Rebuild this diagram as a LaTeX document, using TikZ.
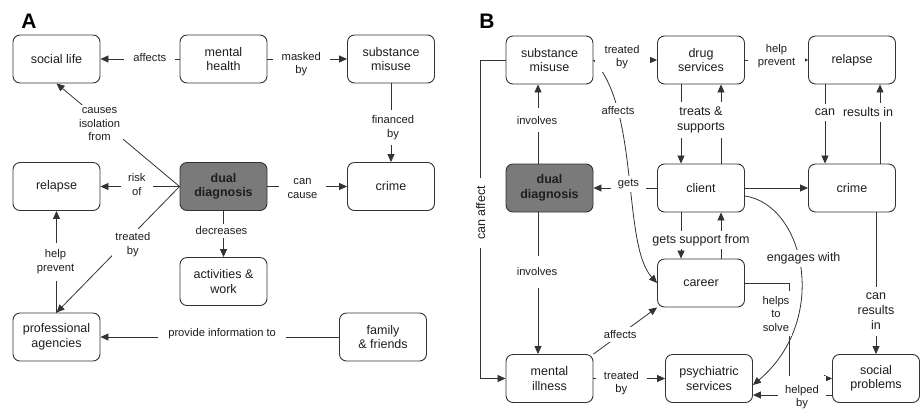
\documentclass[tikz,border=0pt]{standalone}
\usepackage{fontspec}
\setmainfont{Liberation Sans}
\usetikzlibrary{arrows.meta}
\definecolor{lncol}{HTML}{333333}
\definecolor{ddfill}{HTML}{7A7A7A}
\definecolor{txtcol}{HTML}{1E1E1E}
\tikzset{
  box/.style={draw=lncol, line width=0.9pt, rounded corners=7pt, minimum width=87pt, minimum height=48pt,
    align=center, font=\fontsize{12.5}{14.5}\selectfont, text=txtcol, fill=white, inner sep=1pt},
  ddbox/.style={box, fill=ddfill, font=\fontsize{12.5}{14.5}\selectfont\bfseries},
  arr/.style={draw=lncol, line width=0.8pt, -{Triangle[length=8pt,width=7pt]}},
  tinyarr/.style={draw=lncol, line width=0.8pt, -{Triangle[length=3.5pt,width=3.5pt]}},
  plainln/.style={draw=lncol, line width=0.8pt},
  lbl/.style={fill=white, align=center, font=\fontsize{11.2}{13.5}\selectfont, inner sep=3pt, text=txtcol},
  lblL/.style={lbl, font=\fontsize{12.5}{15}\selectfont},
  panel/.style={font=\fontsize{21}{21}\selectfont\bfseries, text=black, inner sep=0pt}
}
\begin{document}
\begin{tikzpicture}[x=1pt,y=-1pt]
\useasboundingbox (0,0) rectangle (920,408);

% ---------------- Panel A ----------------
\node[panel] (labA) at (29,21) {A};
\node[box] (socA) at (56.5,59) {social life};
\node[box] (mhA) at (223.5,59) {mental\\health};
\node[box] (smA) at (391,59) {substance\\misuse};
\node[box] (relA) at (56.5,186.5) {relapse};
\node[ddbox] (ddA) at (223.5,186.5) {dual\\diagnosis};
\node[box] (crA) at (391,186.5) {crime};
\node[box] (awA) at (223.5,281.5) {activities \&\\work};
\node[box] (paA) at (56.5,337) {professional\\agencies};
\node[box] (ffA) at (383,337) {family\\\& friends};

\draw[arr] (mhA.west) -- node[lbl,pos=0.375,yshift=2pt,inner xsep=9pt]{affects} (socA.east);
\draw[arr] (mhA.east) -- node[lbl,pos=0.425,yshift=-5pt,inner xsep=9pt]{masked\\by} (smA.west);
\draw[arr] (smA.south) -- node[lbl,pos=0.56,xshift=2pt,inner ysep=6pt]{financed\\by} (crA.north);
\draw[arr] (ddA.east) -- node[lbl,pos=0.44,yshift=-2pt,inner xsep=9pt]{can\\cause} (crA.west);
\draw[arr] (ddA.west) -- node[lbl,pos=0.54,yshift=2pt,inner xsep=7pt]{risk\\of} (relA.east);
\draw[arr] (ddA.west) -- node[lbl,pos=0.65,yshift=-5pt]{causes\\isolation\\from} (socA.south);
\draw[arr] (ddA.west) -- node[lbl,pos=0.42,xshift=5pt,yshift=-5pt]{treated\\by} (paA.north);
\draw[arr] (ddA.south) -- node[lbl,pos=0.43,xshift=-2pt]{decreases} (awA.north);
\draw[arr] (paA.north) -- node[lbl,pos=0.5,xshift=-1pt,inner ysep=7pt]{help\\prevent} (relA.south);
\draw[arr] (ffA.west) -- node[lbl,pos=0.49,yshift=3pt,inner xsep=10pt]{provide information to} (paA.east);

% ---------------- Panel B ----------------
\node[panel] (labB) at (487,21) {B};
\node[box] (smB) at (549.5,60) {substance\\misuse};
\node[box] (dsB) at (701,60) {drug\\services};
\node[box] (relB) at (852,60) {relapse};
\node[ddbox] (ddB) at (549.5,188) {dual\\diagnosis};
\node[box] (clB) at (701,188) {client};
\node[box] (crB) at (852,188) {crime};
\node[box] (caB) at (701,283) {career};
\node[box] (miB) at (549.5,378.5) {mental\\illness};
\node[box] (psB) at (709,378.5) {psychiatric\\services};
\node[box] (spB) at (876,378.5) {social\\problems};

% unlabelled connectors and curves first, so labels sit on top
\draw[arr] ([xshift=20pt]clB.north) -- ([xshift=20pt]dsB.south);
\draw[arr] ([xshift=20pt]caB.north) -- ([xshift=20pt]clB.south);
\draw[arr] (clB.east) -- (crB.west);
\draw[arr] (smB.east) .. controls (640,110) and (622,245) .. node[lbl,pos=0.25]{affects} (caB.west);
\draw[arr] ([yshift=-8pt]clB.east) .. controls (805,205) and (830,320) .. node[lblL,pos=0.45,xshift=5pt]{engages with} ([yshift=-6.5pt]psB.east);
\draw[arr] (caB.east) -- ++(44,0) |- node[lbl,pos=0.16,xshift=-13pt,inner ysep=5pt]{helps\\to\\solve} (spB.west);

\draw[arr] ([xshift=-11.5pt]ddB.north) -- node[lbl,pos=0.55,xshift=-1pt,inner ysep=8pt]{involves} ([xshift=-11.5pt]smB.south);
\draw[arr] ([xshift=-11.5pt]ddB.south) -- node[lbl,pos=0.42,xshift=-1pt,inner ysep=12pt]{involves} ([xshift=-11.5pt]miB.north);
\draw[arr] (smB.west) -| ([xshift=-25pt]miB.west) node[lblL,rotate=90,pos=0.74,inner xsep=8pt]{can affect} -- (miB.west);
\draw[arr] (smB.east) -- node[lbl,pos=0.45,yshift=3pt,inner xsep=10pt]{treated\\by} (dsB.west);
\draw[tinyarr] (dsB.east) -- node[lbl,pos=0.5,yshift=4pt,inner xsep=10pt]{help\\prevent} (relB.west);
\draw[arr] ([xshift=-20pt]dsB.south) -- node[lblL,pos=0.45,xshift=20pt,inner ysep=5pt]{treats \&\\supports} ([xshift=-20pt]clB.north);
\draw[arr] ([xshift=-27pt]relB.south) -- node[lblL,pos=0.35,inner ysep=5pt]{can} ([xshift=-27pt]crB.north);
\draw[arr] ([xshift=28pt]crB.north) -- node[lblL,pos=0.65,xshift=-12pt,inner ysep=5pt]{results in} ([xshift=28pt]relB.south);
\draw[arr] (clB.west) -- node[lbl,pos=0.45,yshift=4pt,inner xsep=7pt]{gets} (ddB.east);
\draw[arr] ([xshift=-20pt]clB.south) -- node[lblL,pos=0.6,xshift=20pt]{gets support from} ([xshift=-20pt]caB.north);
\draw[arr] (miB.north east) -- node[lbl,pos=0.42]{affects} (caB.south west);
\draw[arr] (miB.east) -- node[lbl,pos=0.39,yshift=-4.5pt,inner xsep=8pt]{treated\\by} (psB.west);
\draw[arr] ([yshift=-16.5pt]spB.west) -- node[lbl,pos=0.38,yshift=-2pt,inner xsep=7pt,inner ysep=9pt]{helped\\by} ([yshift=-16.5pt]psB.east);
\draw[arr] (spB.north |- crB.south) -- node[lblL,pos=0.7,inner ysep=6pt]{can\\results\\in} (spB.north);
\end{tikzpicture}
\end{document}
